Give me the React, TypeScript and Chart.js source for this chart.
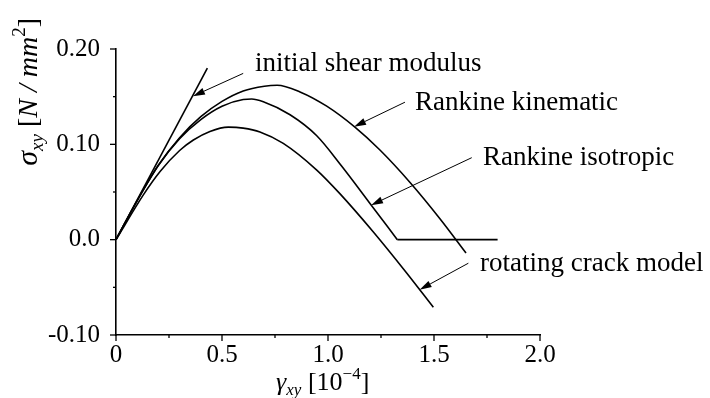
import React, { useEffect, useRef } from "react";
import { Chart, registerables } from "chart.js";

Chart.register(...registerables);

// ---------- data ----------
const initialX = [0, 0.431];
const initialY = [0, 0.18];

const kinematicX = [0, 0.1, 0.2, 0.3, 0.4, 0.5, 0.6, 0.7, 0.76, 0.868, 0.994, 1.127, 1.245, 1.387, 1.528, 1.651];
const kinematicY = [0, 0.041, 0.078, 0.107, 0.129, 0.145, 0.156, 0.161, 0.162, 0.155, 0.14, 0.118, 0.094, 0.06, 0.022, -0.014];

const isotropicX = [0, 0.1, 0.2, 0.3, 0.4, 0.5, 0.6, 0.64, 0.695, 0.821, 0.947, 1.065, 1.198, 1.327];
const isotropicY = [0, 0.041, 0.078, 0.106, 0.126, 0.14, 0.147, 0.1475, 0.1446, 0.131, 0.109, 0.077, 0.038, 0];
const isotropicResidualX = [1.327, 1.8];
const isotropicResidualY = [0, 0];

const rotatingX = [0, 0.129, 0.208, 0.3, 0.365, 0.443, 0.53, 0.6, 0.679, 0.789, 0.947, 1.057, 1.214, 1.371, 1.497];
const rotatingY = [0, 0.047, 0.0715, 0.0935, 0.1045, 0.1135, 0.118, 0.117, 0.113, 0.101, 0.073, 0.048, 0.008, -0.035, -0.071];

const xTickValues = [0, 0.5, 1.0, 1.5, 2.0];
const xTickLabels = ["0", "0.5", "1.0", "1.5", "2.0"];
const xMinorValues = [0.25, 0.75, 1.25, 1.75];
const yTickValues = [-0.1, 0, 0.1, 0.2];
const yTickLabels = ["-0.10", "0.0", "0.10", "0.20"];
const yMinorValues = [-0.05, 0.05, 0.15];

// annotations (data coordinates)
const labelTexts = ["initial shear modulus", "Rankine kinematic", "Rankine isotropic", "rotating crack model"];
const labelX = [0.656, 1.41, 1.731, 1.717];
const labelY = [0.177, 0.1358, 0.0779, -0.0326];
const arrowFromX = [0.6, 1.363, 1.678, 1.662];
const arrowFromY = [0.1744, 0.1442, 0.086, -0.0247];
const arrowToX = [0.363, 1.123, 1.203, 1.432];
const arrowToY = [0.1505, 0.1185, 0.0362, -0.0525];

type Seg = { t: string; it?: boolean; s: number; dy?: number };
const xTitle: Seg[] = [
  { t: "γ", it: true, s: 26 },
  { t: "xy", it: true, s: 17, dy: 5 },
  { t: " [10", s: 26 },
  { t: "−4", s: 17, dy: -11 },
  { t: "]", s: 26 },
];
const yTitle: Seg[] = [
  { t: "σ", it: true, s: 30 },
  { t: "xy", it: true, s: 19, dy: 6 },
  { t: " [", s: 28 },
  { t: "N / mm", it: true, s: 28 },
  { t: "2", s: 19, dy: -12 },
  { t: "]", s: 28 },
];

const FAMILY = '"Liberation Serif", "Times New Roman", serif';

const toPts = (xs: number[], ys: number[]) => xs.map((x, i) => ({ x, y: ys[i] }));

function drawRich(ctx: CanvasRenderingContext2D, segs: Seg[], cx: number, baseY: number) {
  const widths = segs.map((g) => {
    ctx.font = `${g.it ? "italic " : ""}${g.s}px ${FAMILY}`;
    return ctx.measureText(g.t).width;
  });
  const total = widths.reduce((a, b) => a + b, 0);
  let x = cx - total / 2;
  ctx.textAlign = "left";
  ctx.textBaseline = "alphabetic";
  segs.forEach((g, i) => {
    ctx.font = `${g.it ? "italic " : ""}${g.s}px ${FAMILY}`;
    ctx.fillText(g.t, x, baseY + (g.dy || 0));
    x += widths[i];
  });
}

const decorPlugin = {
  id: "decor",
  afterDraw(chart: any) {
    const ctx: CanvasRenderingContext2D = chart.ctx;
    const xs = chart.scales.x;
    const ys = chart.scales.y;
    const area = chart.chartArea;
    ctx.save();
    ctx.strokeStyle = "#000";
    ctx.fillStyle = "#000";
    ctx.lineWidth = 1.3;
    const xt = (v: number, len: number) => {
      const p = xs.getPixelForValue(v);
      ctx.beginPath();
      ctx.moveTo(p, area.bottom);
      ctx.lineTo(p, area.bottom + len);
      ctx.stroke();
    };
    const yt = (v: number, len: number) => {
      const p = ys.getPixelForValue(v);
      ctx.beginPath();
      ctx.moveTo(area.left, p);
      ctx.lineTo(area.left - len, p);
      ctx.stroke();
    };
    xTickValues.forEach((v) => xt(v, 6));
    xMinorValues.forEach((v) => xt(v, 3));
    yTickValues.forEach((v) => yt(v, 6));
    yMinorValues.forEach((v) => yt(v, 3));

    ctx.lineWidth = 1;
    for (let i = 0; i < labelTexts.length; i++) {
      const x0 = xs.getPixelForValue(arrowFromX[i]);
      const y0 = ys.getPixelForValue(arrowFromY[i]);
      const x1 = xs.getPixelForValue(arrowToX[i]);
      const y1 = ys.getPixelForValue(arrowToY[i]);
      const ang = Math.atan2(y1 - y0, x1 - x0);
      const L = 12;
      const W = 3.5;
      const bx = x1 - L * Math.cos(ang);
      const by = y1 - L * Math.sin(ang);
      ctx.beginPath();
      ctx.moveTo(x0, y0);
      ctx.lineTo(bx, by);
      ctx.stroke();
      ctx.beginPath();
      ctx.moveTo(x1, y1);
      ctx.lineTo(bx + W * Math.sin(ang), by - W * Math.cos(ang));
      ctx.lineTo(bx - W * Math.sin(ang), by + W * Math.cos(ang));
      ctx.closePath();
      ctx.fill();
      ctx.font = `27px ${FAMILY}`;
      ctx.textAlign = "left";
      ctx.textBaseline = "alphabetic";
      ctx.fillText(labelTexts[i], xs.getPixelForValue(labelX[i]), ys.getPixelForValue(labelY[i]));
    }

    drawRich(ctx, xTitle, xs.getPixelForValue(0.975), area.bottom + 55);
    ctx.translate(area.left - 79, ys.getPixelForValue(0.155));
    ctx.rotate(-Math.PI / 2);
    drawRich(ctx, yTitle, 0, 0);
    ctx.restore();
  },
};

export default function App() {
  const ref = useRef<HTMLCanvasElement | null>(null);
  useEffect(() => {
    if (!ref.current) return;
    const line = (data: any[], smooth: boolean) => ({
      data,
      borderColor: "#000",
      borderWidth: 1.6,
      pointRadius: 0,
      fill: false,
      cubicInterpolationMode: smooth ? "monotone" : "default",
      tension: smooth ? 0.4 : 0,
    });
    const chart = new Chart(ref.current, {
      type: "line",
      data: {
        datasets: [
          { label: "initial shear modulus", ...line(toPts(initialX, initialY), false) },
          { label: "Rankine kinematic", ...line(toPts(kinematicX, kinematicY), true) },
          { label: "Rankine isotropic", ...line(toPts(isotropicX, isotropicY), true) },
          { label: "Rankine isotropic (residual)", ...line(toPts(isotropicResidualX, isotropicResidualY), false) },
          { label: "rotating crack model", ...line(toPts(rotatingX, rotatingY), true) },
        ] as any,
      },
      options: {
        animation: false,
        responsive: false,
        layout: { padding: { left: 0, top: 49, right: 170, bottom: 0 } },
        plugins: { legend: { display: false }, tooltip: { enabled: false } },
        scales: {
          x: {
            type: "linear",
            min: 0,
            max: 2,
            afterFit: (s: any) => {
              s.height = 63;
            },
            afterBuildTicks: (s: any) => {
              s.ticks = xTickValues.map((v) => ({ value: v }));
            },
            ticks: {
              color: "#000",
              padding: 5,
              maxRotation: 0,
              autoSkip: false,
              font: { family: FAMILY, size: 25 },
              callback: (_v: any, i: number) => xTickLabels[i],
            },
            grid: { display: false, drawTicks: false },
            border: { display: true, color: "#000", width: 1.6 },
          },
          y: {
            type: "linear",
            min: -0.1,
            max: 0.2,
            afterFit: (s: any) => {
              s.width = 116;
            },
            afterBuildTicks: (s: any) => {
              s.ticks = yTickValues.map((v) => ({ value: v }));
            },
            ticks: {
              color: "#000",
              padding: 16,
              autoSkip: false,
              font: { family: FAMILY, size: 25 },
              callback: (_v: any, i: number) => yTickLabels[i],
            },
            grid: { display: false, drawTicks: false },
            border: { display: true, color: "#000", width: 1.6 },
          },
        },
      },
      plugins: [decorPlugin],
    });
    return () => chart.destroy();
  }, []);
  return (
    <div style={{ position: "fixed", left: 0, top: 0, width: 710, height: 398, background: "#fff" }}>
      <canvas ref={ref} width={710} height={398} style={{ display: "block" }} />
    </div>
  );
}
